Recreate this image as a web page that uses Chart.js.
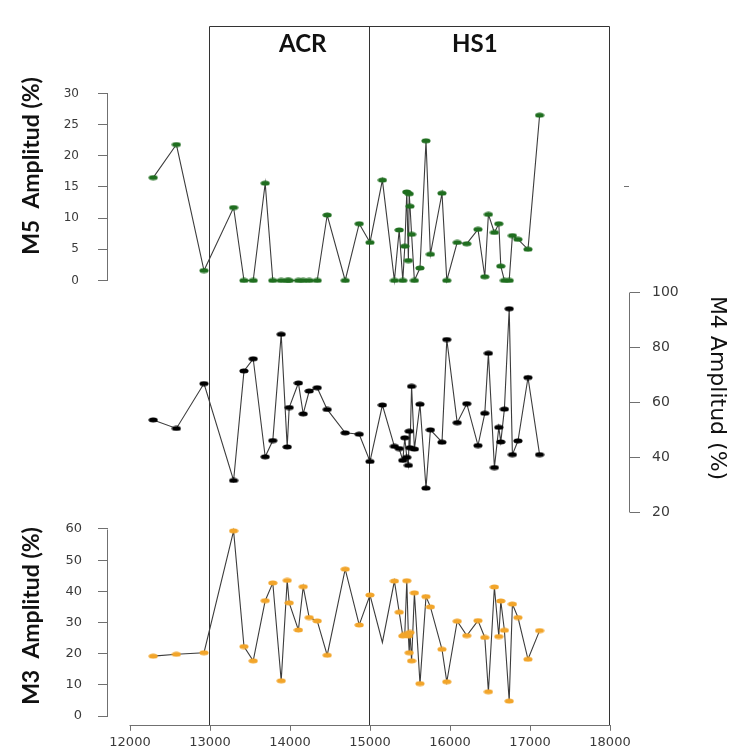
<!DOCTYPE html>
<html>
<head>
<meta charset="utf-8">
<script src="https://cdn.jsdelivr.net/npm/chart.js@4.4.1/dist/chart.umd.min.js"></script>
<style>
  html, body { margin: 0; padding: 0; background: #fff; }
</style>
</head>
<body>
<canvas id="chart" width="731" height="751"></canvas>
<script>
// sample ages (shared by the three series)
const ages = [
  12290, 12580, 12925, 13295, 13425, 13540, 13690, 13785, 13890, 13965,
  13990, 14105, 14165, 14240, 14340, 14465, 14690, 14865, 15000,
  15155, 15305, 15365, 15410, 15435, 15460, 15480, 15490, 15500, 15520, 15555,
  15625, 15700, 15755, 15900, 15960, 16090, 16210, 16350, 16435, 16480,
  16555, 16610, 16635, 16680, 16740, 16780, 16850, 16975, 17120
];
const m5 = [
  16.5, 21.8, 1.6, 11.7, 0, 0, 15.6, 0, 0, 0,
  0, 0, 0, 0, 0, 10.5, 0, 9.1, 6.1,
  16.1, 0, 8.1, 0, 5.5, 14.2, 3.2, 13.9, 11.9, 7.4, 0,
  2.0, 22.4, 4.2, 14.0, 0, 6.1, 5.9, 8.2, 0.6, 10.6,
  7.7, 9.1, 2.3, 0, 0, 7.2, 6.6, 5.0, 26.5
];
const m4 = [
  53.6, 50.5, 66.8, 31.6, 71.4, 75.8, 40.2, 46.1, 84.7, 43.8,
  58.1, 67, 55.8, 64.1, 65.3, 57.4, 48.9, 48.4, 38.5,
  59, 44, 43.2, 38.9, 47.1, 40, 37.1, 49.5, 43.5, 65.8, 43,
  59.3, 28.8, 50, 45.5, 82.8, 52.6, 59.5, 44.3, 56, 77.8,
  36.3, 50.9, 45.6, 57.5, 94, 41, 46, 69, 41
];
const m3 = [
  19.2, 19.8, 20.3, 59.4, 22.3, 17.7, 37, 42.7, 11.3, 43.5,
  36.3, 27.6, 41.5, 31.6, 30.5, 19.5, 47.1, 29.2, 38.8,
  23.6, 43.3, 33.3, 25.7, 26.2, 43.4, 25.7, 20.3, 26.8, 17.7, 39.5,
  10.4, 38.3, 35, 21.4, 11, 30.4, 25.8, 30.6, 25.2, 7.8,
  41.4, 25.5, 36.9, 27.5, 4.8, 35.9, 31.6, 18.2, 27.4
];
const xTicks = [12000, 13000, 14000, 15000, 16000, 17000, 18000];
const m5Ticks = [0, 5, 10, 15, 20, 25, 30];
const m4Ticks = [20, 40, 60, 80, 100];
const m3Ticks = [0, 10, 20, 30, 40, 50, 60];
const periods = ['ACR', 'HS1'];
const periodBounds = [13000, 15000, 18000];

function ellipse(color) {
  const c = document.createElement('canvas');
  c.width = 10; c.height = 6;
  const g = c.getContext('2d');
  g.fillStyle = color;
  g.beginPath();
  g.ellipse(5, 3, 4.6, 2.5, 0, 0, Math.PI * 2);
  g.fill();
  return c;
}

const AXIS = '#707070';
const LABEL = '#3a3a3a';
const useTicks = list => scale => { scale.ticks = list.map(v => ({ value: v })); };

function yAxis(pos, list, min, max, size, pad, extra) {
  return Object.assign({
    type: 'linear',
    position: pos,
    min: min, max: max,
    afterBuildTicks: useTicks(list),
    afterFit: s => { s.width = pos === 'left' ? 108 : 101; },
    grid: { drawOnChartArea: false, drawTicks: true, tickLength: 10, tickColor: AXIS },
    border: { display: false },
    ticks: { color: LABEL, padding: pad, font: { family: 'DejaVu Sans', size: size } }
  }, extra);
}

// R-style frame, spines, titles and period labels
const framePlugin = {
  id: 'frame',
  beforeDatasetsDraw(chart) {
    const { ctx, chartArea, scales } = chart;
    const x = scales.x;
    ctx.save();
    ctx.strokeStyle = '#333';
    ctx.lineWidth = 1;
    ctx.beginPath();
    const top = Math.round(chartArea.top) + 0.5;
    const bottom = Math.round(chartArea.bottom) + 0.5;
    periodBounds.forEach(v => {
      const px = Math.round(x.getPixelForValue(v)) - 0.5;
      ctx.moveTo(px, top); ctx.lineTo(px, bottom);
    });
    ctx.moveTo(Math.round(x.getPixelForValue(periodBounds[0])) - 0.5, top);
    ctx.lineTo(Math.round(x.getPixelForValue(periodBounds[2])) - 0.5, top);
    ctx.stroke();

    // axis spines
    ctx.strokeStyle = AXIS;
    ctx.beginPath();
    const xl = Math.round(x.getPixelForValue(xTicks[0])) - 0.5;
    const xr = Math.round(x.getPixelForValue(xTicks[xTicks.length - 1])) - 0.5;
    ctx.moveTo(xl, bottom); ctx.lineTo(xr, bottom);
    [['y5', m5Ticks], ['y3', m3Ticks], ['y4', m4Ticks]].forEach(([id, list]) => {
      const s = scales[id];
      const sx = (s.position === 'left' ? Math.round(s.right) : Math.round(s.left)) - 0.5;
      ctx.moveTo(sx, Math.round(s.getPixelForValue(list[0])) + 0.5);
      ctx.lineTo(sx, Math.round(s.getPixelForValue(list[list.length - 1])) + 0.5);
    });
    ctx.stroke();
    // small stray mark right of the top panel
    ctx.beginPath();
    ctx.moveTo(624, 186.5); ctx.lineTo(629, 186.5);
    ctx.stroke();
    ctx.restore();
  },
  afterDraw(chart) {
    const { ctx, scales } = chart;
    ctx.save();
    ctx.fillStyle = '#111';
    ctx.textAlign = 'center';
    ctx.textBaseline = 'alphabetic';
    ctx.font = 'bold 24px Lato';
    ctx.fillText(periods[0], scales.x.getPixelForValue(14160), 52);
    ctx.fillText(periods[1], scales.x.getPixelForValue(16310), 52);

    ctx.textBaseline = 'middle';
    ctx.font = 'bold 23px Lato';
    ctx.save();
    ctx.translate(32, 166);
    ctx.rotate(-Math.PI / 2);
    ctx.fillText('M5  Amplitud (%)', 0, 0);
    ctx.restore();
    ctx.save();
    ctx.translate(32, 616);
    ctx.rotate(-Math.PI / 2);
    ctx.fillText('M3  Amplitud (%)', 0, 0);
    ctx.restore();
    ctx.save();
    ctx.font = '22px "DejaVu Sans"';
    ctx.translate(717, 388);
    ctx.rotate(Math.PI / 2);
    ctx.fillText('M4 Amplitud (%)', 0, 0);
    ctx.restore();
    ctx.restore();
  }
};

function series(label, values, axis, color, hidden) {
  return {
    label: label,
    data: ages.map((a, i) => ({ x: a, y: values[i] })),
    yAxisID: axis,
    borderColor: '#3c3c3c',
    borderWidth: 1.1,
    pointStyle: ellipse(color),
    pointRadius: ctx => (hidden.includes(ctx.dataIndex) ? 0 : 3),
    tension: 0
  };
}

new Chart(document.getElementById('chart'), {
  type: 'line',
  data: {
    datasets: [
      series('M5', m5, 'y5', '#1f6e1f', []),
      series('M4', m4, 'y4', '#000000', []),
      series('M3', m3, 'y3', '#f2a52a', [19])
    ]
  },
  options: {
    responsive: false,
    animation: false,
    layout: { padding: { top: 11, left: 0, right: 0, bottom: 0 } },
    plugins: { legend: { display: false }, tooltip: { enabled: false } },
    scales: {
      x: {
        type: 'linear',
        min: 11725, max: 18250,
        afterBuildTicks: useTicks(xTicks),
        afterFit: s => { s.height = 23; },
        grid: { drawOnChartArea: false, drawTicks: true, tickLength: 6, tickColor: AXIS },
        border: { display: false },
        ticks: { color: LABEL, padding: 4, maxRotation: 0, autoSkip: false,
                 callback: v => String(v),
                 font: { family: 'DejaVu Sans', size: 13 } }
      },
      y3: yAxis('left', m3Ticks, -2.8125, 66.875, 13, 16, { stack: 'left', stackWeight: 223 }),
      y5: yAxis('left', m5Ticks, -36.41, 40.78, 12, 19, { stack: 'left', stackWeight: 494 }),
      y4: yAxis('right', m4Ticks, -57.17, 196.64, 14, 12, {})
    }
  },
  plugins: [framePlugin]
});
</script>
</body>
</html>
